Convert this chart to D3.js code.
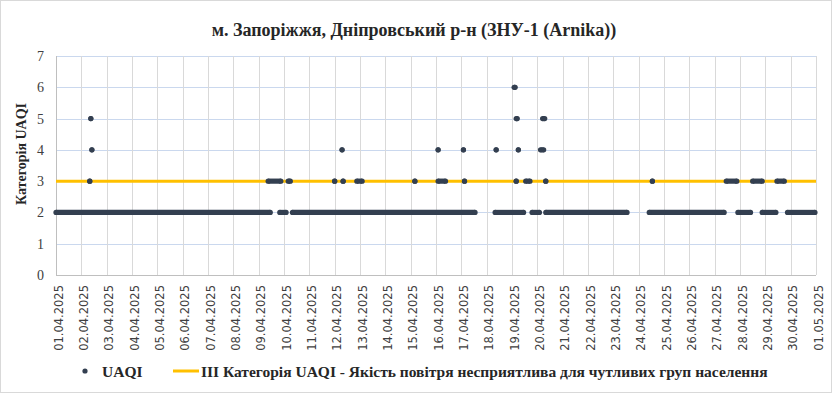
<!DOCTYPE html>
<html>
<head>
    <meta charset="utf-8">
    <title>м. Запоріжжя, Дніпровський р-н (ЗНУ-1 (Arnika))</title>
    <script src="https://d3js.org/d3.v7.min.js"></script>
    <style>
        body { margin: 0; background: #fff; }
        .serif { font-family: "Liberation Serif", "Times New Roman", Times, "DejaVu Serif", serif; }
    </style>
</head>
<body>
<div id="chart"></div>

<script>
    // day labels on the x axis (one tick every 24 hours)
    const days = ["01.04.2025", "02.04.2025", "03.04.2025", "04.04.2025", "05.04.2025", "06.04.2025",
        "07.04.2025", "08.04.2025", "09.04.2025", "10.04.2025", "11.04.2025", "12.04.2025", "13.04.2025",
        "14.04.2025", "15.04.2025", "16.04.2025", "17.04.2025", "18.04.2025", "19.04.2025", "20.04.2025",
        "21.04.2025", "22.04.2025", "23.04.2025", "24.04.2025", "25.04.2025", "26.04.2025", "27.04.2025",
        "28.04.2025", "29.04.2025", "30.04.2025", "01.05.2025"];
    const yTicks = [0, 1, 2, 3, 4, 5, 6, 7];

    // hourly UAQI readings, read off the picture as runs: [first hour, last hour, category]
    // (hour 0 = 01.04.2025 00:00)
    const uaqi2 = [[0, 203], [212, 218], [224, 397], [416, 443], [451, 458], [464, 541],
        [562, 633], [646, 658], [669, 682], [693, 719]];
    const uaqi3 = [[32, 32], [201, 213], [220, 222], [264, 264], [272, 272], [285, 290], [340, 340],
        [362, 369], [387, 387], [436, 436], [445, 449], [464, 464], [565, 565], [635, 645],
        [660, 669], [683, 690]];
    const uaqi4 = [[34, 34], [271, 271], [362, 362], [386, 386], [417, 417], [438, 438], [459, 462]];
    const uaqi5 = [[33, 33], [436, 437], [461, 463]];
    const uaqi6 = [[434, 435]];

    const threshold = 3;

    const width = 833;
    const height = 394;
    const margin = { top: 56, right: 17, bottom: 119, left: 56 };

    const runs = [];
    [[2, uaqi2], [3, uaqi3], [4, uaqi4], [5, uaqi5], [6, uaqi6]].forEach(([v, list]) => {
        list.forEach(r => runs.push({ start: r[0], end: r[1], value: v }));
    });

    const x = d3.scaleLinear()
        .domain([0, (days.length - 1) * 24])
        .range([margin.left, width - margin.right]);

    const y = d3.scaleLinear()
        .domain([0, 7])
        .range([height - margin.bottom, margin.top]);

    const svg = d3.select("#chart")
        .append("svg")
        .attr("width", width)
        .attr("height", height)
        .style("display", "block");

    // chart border
    svg.append("rect")
        .attr("x", 0.5).attr("y", 0.5)
        .attr("width", 831).attr("height", 392)
        .attr("fill", "#fff")
        .attr("stroke", "#d9d9d9");

    // horizontal grid
    svg.append("g")
        .selectAll("line")
        .data(yTicks.filter(d => d > 0))
        .join("line")
        .attr("x1", margin.left)
        .attr("x2", width - margin.right)
        .attr("y1", d => Math.round(y(d)) + 0.5)
        .attr("y2", d => Math.round(y(d)) + 0.5)
        .attr("stroke", "#cad8ee")
        .attr("stroke-width", 1);

    // vertical grid
    svg.append("g")
        .selectAll("line")
        .data(days.map((d, i) => i * 24).slice(1))
        .join("line")
        .attr("x1", d => Math.round(x(d)) + 0.5)
        .attr("x2", d => Math.round(x(d)) + 0.5)
        .attr("y1", y(7))
        .attr("y2", y(0))
        .attr("stroke", "#d9d9d9")
        .attr("stroke-width", 1);

    // axis lines
    svg.append("line")
        .attr("x1", Math.round(x(0)) + 0.5).attr("x2", Math.round(x(0)) + 0.5)
        .attr("y1", y(7)).attr("y2", y(0))
        .attr("stroke", "#bfbfbf");
    svg.append("line")
        .attr("x1", x(0)).attr("x2", width - margin.right)
        .attr("y1", Math.round(y(0)) + 0.5).attr("y2", Math.round(y(0)) + 0.5)
        .attr("stroke", "#bfbfbf");

    // x axis labels
    const xAxis = svg.append("g")
        .attr("transform", `translate(0,${y(0)})`)
        .call(d3.axisBottom(x)
            .tickValues(days.map((d, i) => i * 24))
            .tickFormat((d, i) => days[i])
            .tickSize(0));
    xAxis.select(".domain").remove();
    xAxis.selectAll("text")
        .attr("transform", "rotate(-90)")
        .attr("text-anchor", "end")
        .attr("x", -10)
        .attr("y", 2)
        .attr("dy", "0.35em")
        .style("font-family", "'DejaVu Sans', sans-serif")
        .style("font-size", "11.5px")
        .style("fill", "#404040");

    // y axis labels
    const yAxis = svg.append("g")
        .attr("transform", `translate(${margin.left},0)`)
        .call(d3.axisLeft(y).tickValues(yTicks).tickFormat(d3.format("d")).tickSize(0));
    yAxis.select(".domain").remove();
    yAxis.selectAll("text")
        .attr("x", -12)
        .attr("class", "serif")
        .style("font-family", null)
        .style("font-size", "14px")
        .style("fill", "#404040");
    yAxis.attr("font-family", null);

    // threshold line (III category)
    svg.append("line")
        .attr("x1", x(0))
        .attr("x2", x((days.length - 1) * 24))
        .attr("y1", y(threshold))
        .attr("y2", y(threshold))
        .attr("stroke", "#ffc000")
        .attr("stroke-width", 3);

    // UAQI points: each run of equal hourly readings
    const dotR = 2.6;
    const dots = svg.append("g").attr("fill", "#333f50").attr("stroke", "#333f50");
    dots.selectAll("line")
        .data(runs.filter(d => d.end > d.start))
        .join("line")
        .attr("x1", d => x(d.start))
        .attr("x2", d => x(d.end))
        .attr("y1", d => y(d.value))
        .attr("y2", d => y(d.value))
        .attr("stroke-width", dotR * 2);
    dots.selectAll("circle.s")
        .data(runs)
        .join("circle")
        .attr("class", "s")
        .attr("cx", d => x(d.start))
        .attr("cy", d => y(d.value))
        .attr("r", dotR)
        .attr("stroke", "none");
    dots.selectAll("circle.e")
        .data(runs)
        .join("circle")
        .attr("class", "e")
        .attr("cx", d => x(d.end))
        .attr("cy", d => y(d.value))
        .attr("r", dotR)
        .attr("stroke", "none");

    // title
    svg.append("text")
        .attr("class", "serif")
        .attr("x", 414)
        .attr("y", 36)
        .attr("text-anchor", "middle")
        .style("font-weight", "bold")
        .style("font-size", "18px")
        .style("fill", "#262626")
        .text("м. Запоріжжя, Дніпровський р-н (ЗНУ-1 (Arnika))");

    // y axis title
    svg.append("text")
        .attr("class", "serif")
        .attr("transform", "translate(26,154) rotate(-90)")
        .attr("text-anchor", "middle")
        .style("font-weight", "bold")
        .style("font-size", "14px")
        .style("fill", "#262626")
        .text("Категорія UAQI");

    // legend
    svg.append("circle").attr("cx", 85).attr("cy", 371).attr("r", dotR).style("fill", "#333f50");
    svg.append("text").attr("class", "serif").attr("x", 102).attr("y", 377).text("UAQI")
        .style("font-weight", "bold").style("font-size", "15.5px").style("fill", "#262626");
    svg.append("line").attr("x1", 173).attr("x2", 199).attr("y1", 371).attr("y2", 371)
        .attr("stroke", "#ffc000").attr("stroke-width", 3);
    svg.append("text").attr("class", "serif").attr("x", 201).attr("y", 377)
        .text("III Категорія UAQI - Якість повітря несприятлива для чутливих груп населення")
        .style("font-weight", "bold").style("font-size", "15.5px").style("fill", "#262626");
</script>
</body>
</html>
